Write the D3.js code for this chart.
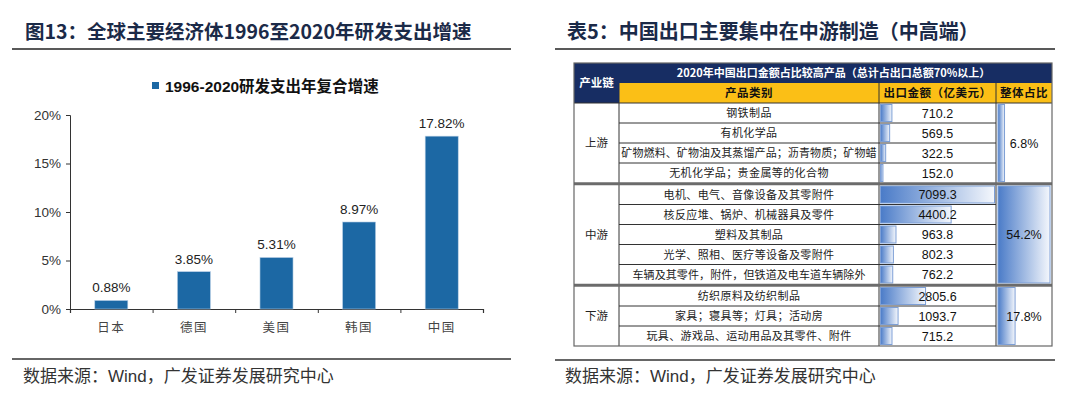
<!DOCTYPE html>
<html>
<head>
<meta charset="utf-8">
<script src="https://cdn.jsdelivr.net/npm/d3@7"></script>
<style>
  html, body { margin: 0; padding: 0; background: #fff; }
  svg { display: block; }
  text { font-family: "Liberation Sans", Arial, "Noto Sans CJK SC", sans-serif; }
  .cjk { font-family: "Noto Sans CJK SC", sans-serif; }
</style>
</head>
<body>
<div id="chart"></div>
<script>
// ---- left chart data ----
const countries = ["日本", "德国", "美国", "韩国", "中国"];
const growthRates = [0.88, 3.85, 5.31, 8.97, 17.82];
const yTicks = [0, 5, 10, 15, 20];
const legendLabel = "1996-2020研发支出年复合增速";

// ---- right table data ----
const chainGroups = ["上游", "中游", "下游"];
const groupShares = [6.8, 54.2, 17.8];
const products = [
  "钢铁制品", "有机化学品", "矿物燃料、矿物油及其蒸馏产品；沥青物质；矿物蜡", "无机化学品；贵金属等的化合物",
  "电机、电气、音像设备及其零附件", "核反应堆、锅炉、机械器具及零件", "塑料及其制品", "光学、照相、医疗等设备及零附件", "车辆及其零件，附件，但铁道及电车道车辆除外",
  "纺织原料及纺织制品", "家具；寝具等；灯具；活动房", "玩具、游戏品、运动用品及其零件、附件"
];
const productGroup = [0, 0, 0, 0, 1, 1, 1, 1, 1, 2, 2, 2];
const exportValues = [710.2, 569.5, 322.5, 152.0, 7099.3, 4400.2, 963.8, 802.3, 762.2, 2805.6, 1093.7, 715.2];

const width = 1080, height = 398;
const svg = d3.select("#chart").append("svg")
  .attr("width", width).attr("height", height);

const defs = svg.append("defs");
const grad = defs.append("linearGradient").attr("id", "barGrad")
  .attr("x1", "0%").attr("x2", "100%").attr("y1", "0%").attr("y2", "0%");
grad.append("stop").attr("offset", "0%").attr("stop-color", "#4a7bc8");
grad.append("stop").attr("offset", "100%").attr("stop-color", "#f4f7fc");

// ================= titles / footers =================
function panelFrame(x0, x1, titleX, title, titleSize, lineY, footY) {
  svg.append("text").attr("class", "cjk")
    .attr("x", titleX).attr("y", 39)
    .attr("font-size", titleSize).attr("font-weight", "bold")
    .attr("fill", "#1b2a48")
    .text(title);
  svg.append("line").attr("x1", x0).attr("x2", x1).attr("y1", 49).attr("y2", 49)
    .attr("stroke", "#222").attr("stroke-width", 1.5);
  svg.append("line").attr("x1", x0).attr("x2", x1).attr("y1", lineY).attr("y2", lineY)
    .attr("stroke", "#333").attr("stroke-width", 1.5);
  const ft = svg.append("text").attr("class", "cjk")
    .attr("x", titleX - 2).attr("y", footY)
    .attr("font-size", 17).attr("fill", "#333");
  ft.append("tspan").text("数据来源：");
  ft.append("tspan").attr("font-family", "Liberation Sans, Arial, sans-serif").text("Wind");
  ft.append("tspan").text("，广发证券发展研究中心");
}
panelFrame(12, 511, 25, "图13：全球主要经济体1996至2020年研发支出增速", 19.5, 359, 382);
panelFrame(555, 1055, 567, "表5：中国出口主要集中在中游制造（中高端）", 20, 360, 382);

// ================= left bar chart =================
const barColor = "#1c68a4";
const x = d3.scaleBand().domain(countries).range([70, 483])
  .paddingInner(0.6).paddingOuter(0.3);
const xEdges = d3.scaleLinear().domain([0, countries.length]).range([70, 483]);
const y = d3.scaleLinear().domain([0, 20]).range([309, 115]);

// legend
svg.append("rect").attr("x", 152).attr("y", 82).attr("width", 7).attr("height", 7).attr("fill", barColor);
svg.append("text").attr("x", 165).attr("y", 92)
  .attr("font-size", 15.5).attr("font-weight", "bold").attr("fill", "#111")
  .text(legendLabel);

// y axis
const yAxisG = svg.append("g").attr("transform", "translate(70,0)")
  .call(d3.axisLeft(y).tickValues(yTicks).tickSize(4).tickPadding(5).tickFormat(d => d + "%"));
yAxisG.selectAll("text").attr("font-size", 13.5).attr("fill", "#333")
  .attr("font-family", "Liberation Sans, Arial, sans-serif");
yAxisG.selectAll("path, line").attr("stroke", "#333");

// x axis (ticks on category boundaries)
const xAxisG = svg.append("g").attr("transform", "translate(0,309)")
  .call(d3.axisBottom(xEdges).ticks(countries.length).tickSize(4).tickFormat(""));
xAxisG.selectAll("path, line").attr("stroke", "#333");
xAxisG.select("path").attr("stroke-width", 1.2);

svg.append("g").selectAll("text").data(countries).join("text")
  .attr("class", "cjk")
  .attr("x", d => x(d) + x.bandwidth() / 2).attr("y", 332)
  .attr("text-anchor", "middle").attr("font-size", 12.5).attr("letter-spacing", 1.5)
  .attr("fill", "#444")
  .text(d => d);

svg.append("g").selectAll("rect").data(countries).join("rect")
  .attr("x", d => x(d)).attr("width", x.bandwidth())
  .attr("y", (d, i) => y(growthRates[i]))
  .attr("height", (d, i) => y(0) - y(growthRates[i]))
  .attr("fill", barColor).attr("stroke", "#b9d0e6").attr("stroke-width", 0.6);

svg.append("g").selectAll("text").data(countries).join("text")
  .attr("x", d => x(d) + x.bandwidth() / 2)
  .attr("y", (d, i) => y(growthRates[i]) - 8)
  .attr("text-anchor", "middle").attr("font-size", 13.5).attr("fill", "#222")
  .text((d, i) => growthRates[i].toFixed(2) + "%");

// ================= right table =================
const cols = [574, 619, 879, 996, 1052];
const headTop = 63, headMid = 83, bodyTop = 103;
const rowH = 20;
const groupGap = 1.5;
const row = d3.scaleLinear().domain([0, products.length]).range([bodyTop, bodyTop + rowH * products.length]);
const rowTop = i => row(i) + productGroup[i] * groupGap;
const groupTop = g => rowTop(productGroup.indexOf(g));
const groupBottom = g => rowTop(productGroup.lastIndexOf(g)) + rowH;
const tableBottom = groupBottom(chainGroups.length - 1);

const navy = "#172d63", yellow = "#fbbf16", lineCol = "#333";
const tg = svg.append("g");

// header
tg.append("rect").attr("x", cols[0]).attr("y", headTop).attr("width", cols[4] - cols[0]).attr("height", headMid - headTop).attr("fill", navy);
tg.append("rect").attr("x", cols[0]).attr("y", headTop).attr("width", cols[1] - cols[0]).attr("height", bodyTop - headTop).attr("fill", navy);
tg.append("rect").attr("x", cols[1]).attr("y", headMid).attr("width", cols[4] - cols[1]).attr("height", bodyTop - headMid).attr("fill", yellow);

tg.append("text").attr("class", "cjk").attr("x", (cols[0] + cols[1]) / 2).attr("y", headMid + 4)
  .attr("text-anchor", "middle").attr("font-size", 11.5).attr("font-weight", "bold").attr("fill", "#fff")
  .text("产业链");
tg.append("text").attr("class", "cjk").attr("x", (cols[1] + cols[4]) / 2 - 2).attr("y", headMid - 6)
  .attr("text-anchor", "middle").attr("font-size", 11).attr("font-weight", "bold").attr("fill", "#fff")
  .text("2020年中国出口金额占比较高产品（总计占出口总额70%以上）");
const subHeads = ["产品类别", "出口金额（亿美元）", "整体占比"];
tg.selectAll(".sub").data(subHeads).join("text").attr("class", "cjk")
  .attr("x", (d, i) => (cols[i + 1] + cols[i + 2]) / 2).attr("y", bodyTop - 6)
  .attr("text-anchor", "middle").attr("font-size", 11.5).attr("font-weight", "bold").attr("fill", "#111")
  .attr("letter-spacing", 0.5)
  .text(d => d);
[cols[2], cols[3]].forEach(cx => {
  tg.append("line").attr("x1", cx).attr("x2", cx).attr("y1", headMid).attr("y2", bodyTop).attr("stroke", lineCol);
});
tg.append("line").attr("x1", cols[1]).attr("x2", cols[1]).attr("y1", headMid).attr("y2", bodyTop).attr("stroke", navy);

// body bars
const amt = d3.scaleLinear().domain([0, d3.max(exportValues)]).range([0, cols[3] - cols[2] - 3]);
const share = d3.scaleLinear().domain([0, d3.max(groupShares)]).range([0, cols[4] - cols[3] - 4]);

tg.append("g").selectAll("rect").data(exportValues).join("rect")
  .attr("x", cols[2] + 1.5).attr("y", (d, i) => rowTop(i) + 1.5)
  .attr("width", d => amt(d)).attr("height", rowH - 3)
  .attr("fill", "url(#barGrad)").attr("stroke", "#7d9fd6").attr("stroke-width", 1);

tg.append("g").selectAll("rect").data(groupShares).join("rect")
  .attr("x", cols[3] + 2).attr("y", (d, g) => groupTop(g) + 1.5)
  .attr("width", d => share(d)).attr("height", (d, g) => groupBottom(g) - groupTop(g) - 3)
  .attr("fill", "url(#barGrad)").attr("stroke", "#7d9fd6").attr("stroke-width", 1);

// body lines
for (let i = 0; i < products.length; i++) {
  if (i > 0 && productGroup[i] === productGroup[i - 1]) {
    tg.append("line").attr("x1", cols[1]).attr("x2", cols[3]).attr("y1", rowTop(i)).attr("y2", rowTop(i))
      .attr("stroke", lineCol).attr("stroke-width", 1);
  }
}
cols.slice(1, 4).forEach(cx => {
  tg.append("line").attr("x1", cx).attr("x2", cx).attr("y1", bodyTop).attr("y2", tableBottom)
    .attr("stroke", lineCol).attr("stroke-width", 1);
});
chainGroups.forEach((g, gi) => {
  if (gi > 0) {
    const yy = groupTop(gi) - 0.75;
    tg.append("line").attr("x1", cols[0]).attr("x2", cols[4]).attr("y1", yy).attr("y2", yy)
      .attr("stroke", "#6b6b6b").attr("stroke-width", 3);
  }
});
tg.append("line").attr("x1", cols[0]).attr("x2", cols[4]).attr("y1", bodyTop).attr("y2", bodyTop)
  .attr("stroke", lineCol).attr("stroke-width", 1);
tg.append("rect").attr("x", cols[0]).attr("y", headTop).attr("width", cols[4] - cols[0])
  .attr("height", tableBottom - headTop).attr("fill", "none").attr("stroke", "#666").attr("stroke-width", 1.2);

// body text
tg.append("g").selectAll("text").data(products).join("text").attr("class", "cjk")
  .attr("x", (cols[1] + cols[2]) / 2).attr("y", (d, i) => rowTop(i) + 14)
  .attr("text-anchor", "middle").attr("font-size", 11).attr("fill", "#222")
  .attr("letter-spacing", d => d.length > 20 ? 0.1 : 0.4)
  .text(d => d);
tg.append("g").selectAll("text").data(exportValues).join("text")
  .attr("x", (cols[2] + cols[3]) / 2).attr("y", (d, i) => rowTop(i) + 14.5)
  .attr("text-anchor", "middle").attr("font-size", 12.5).attr("fill", "#111")
  .text(d => d.toFixed(1));
tg.append("g").selectAll("text").data(chainGroups).join("text").attr("class", "cjk")
  .attr("x", (cols[0] + cols[1]) / 2).attr("y", (d, g) => (groupTop(g) + groupBottom(g)) / 2 + 4)
  .attr("text-anchor", "middle").attr("font-size", 11.5).attr("fill", "#222")
  .text(d => d);
tg.append("g").selectAll("text").data(groupShares).join("text")
  .attr("x", (cols[3] + cols[4]) / 2).attr("y", (d, g) => (groupTop(g) + groupBottom(g)) / 2 + 4.5)
  .attr("text-anchor", "middle").attr("font-size", 12.5).attr("fill", "#111")
  .text(d => d.toFixed(1) + "%");
</script>
</body>
</html>
